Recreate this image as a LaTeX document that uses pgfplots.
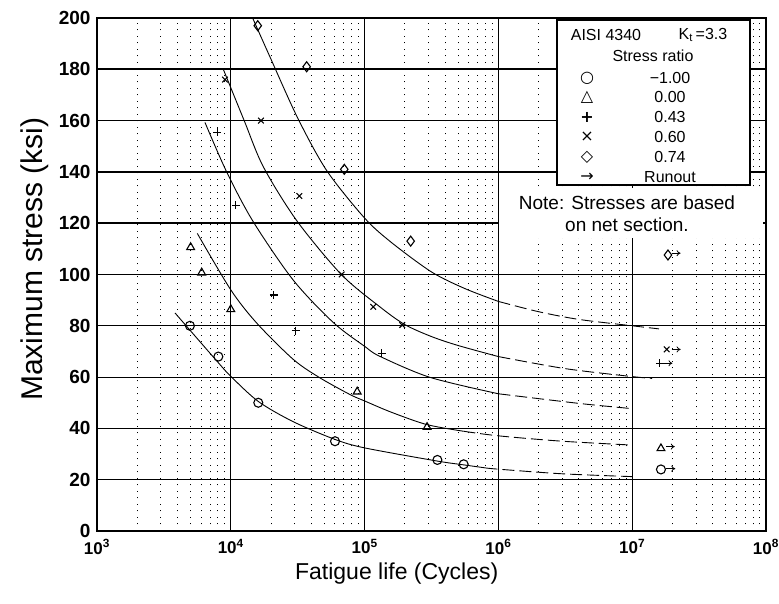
\documentclass[border=0pt]{standalone}
\usepackage{pgfplots}
\pgfplotsset{compat=1.18}
\usepackage{fontspec}
\setmainfont{Liberation Sans}
\newfontfamily\dv{DejaVu Sans}
\usetikzlibrary{arrows.meta}

\begin{document}
\begin{tikzpicture}
\useasboundingbox (-97pt,-73pt) rectangle (682pt,531pt);
\begin{axis}[
    name=ax,
    scale only axis,
    width=669pt, height=513pt,
    xmode=log,
    xmin=1e3, xmax=1e8,
    ymin=0, ymax=200,
    xtick={1e3,1e4,1e5,1e6,1e7,1e8},
    xticklabels={10\textsuperscript{3},10\textsuperscript{4},10\textsuperscript{5},10\textsuperscript{6},10\textsuperscript{7},10\textsuperscript{8}},
    ytick={0,20,...,200},
    grid=both,
    major grid style={black, line width=0.8pt},
    minor grid style={black, line width=1pt, dash pattern=on 1pt off 5.5pt},
    extra y ticks={120,140,160,180},
    extra y tick labels={},
    extra tick style={grid=major, major grid style={black, line width=1.8pt}},
    major tick length=0pt, minor tick length=0pt,
    axis line style={line width=2.2pt},
    /pgf/number format/assume math mode=true,
    yticklabel style={font=\fontsize{19}{20}\selectfont\bfseries, xshift=-3pt},
    xticklabel style={font=\fontsize{17}{19}\selectfont\bfseries, yshift=-5pt},
    xlabel={Fatigue life (Cycles)},
    ylabel={Maximum stress (ksi)},
    xlabel style={font=\fontsize{23}{26}\selectfont, at={(axis description cs:0.448,-0.082)}, anchor=center},
    ylabel style={font=\fontsize{30}{32}\selectfont, at={(axis description cs:-0.0927,0.53)}, anchor=center},
    every axis plot/.append style={black, line width=0.9pt},
]
% fitted curves (solid part, then dashed extrapolation)
\addplot[smooth] coordinates {(14560,200) (19950,184) (31620,161) (52120,140.5) (1e5,122) (158500,112.5) (316200,101) (562300,94.5) (1e6,89.5)};
\addplot[smooth, dash pattern=on 12pt off 5pt] coordinates {(1e6,89.5) (1.995e6,85.5) (3.98e6,82.5) (1e7,80) (1.585e7,78.8)};
\addplot[smooth] coordinates {(8790,180) (12590,160) (17500,142) (31100,121) (67000,100) (130000,87.4) (199500,80.5) (316200,75.8) (501200,72.3) (1e6,68)};
\addplot[smooth, dash pattern=on 12pt off 5pt] coordinates {(1e6,68) (3.16e6,63.3) (1e7,60.2) (1.41e7,59.5)};
\addplot[smooth] coordinates {(6410,159.3) (9310,140) (14700,120.6) (29300,97.8) (58300,81.3) (1e5,72) (130000,68.1) (308000,59.9) (1e6,53.5)};
\addplot[smooth, dash pattern=on 12pt off 5pt] coordinates {(1e6,53.5) (4.07e6,49.7) (1e7,47.7)};
\addplot[smooth] coordinates {(5620,116) (1e4,94) (15600,81.1) (29300,66.9) (46400,59.7) (77800,53.2) (1e5,50.7) (158500,46.3) (291000,41.5) (547000,38.9)};
\addplot[smooth, dash pattern=on 12pt off 5pt] coordinates {(547000,38.9) (1e6,37.1) (3e6,35) (1e7,33.5)};
\addplot[smooth] coordinates {(3830,85) (4950,78.3) (8070,65.6) (1e4,60.3) (16050,50.5) (29300,42.6) (60100,35.7) (1e5,32.4) (346000,27.3) (547000,25.8) (8e5,24.6)};
\addplot[smooth, dash pattern=on 12pt off 5pt] coordinates {(8e5,24.6) (1e6,24.1) (3e6,22.3) (1e7,21.2)};
% test data
\addplot[only marks, mark=o, mark size=4.5pt, mark options={fill=white, line width=1.1pt}] coordinates {(4950,80) (8070,68) (16050,50) (60100,35) (350000,27.7) (550000,26) (1.64e7,24)};
\addplot[only marks, mark=triangle, mark size=4.5pt, mark options={fill=white, line width=1.1pt}] coordinates {(5010,110.6) (6060,100.7) (10000,86.4) (88000,54.3) (293000,40.5) (1.64e7,32.2)};
\addplot[only marks, mark=+, mark size=4pt, mark options={line width=1.1pt}] coordinates {(7930,155.4) (10900,127) (21000,92) (30500,78) (134000,69.3) (1.61e7,65.4)};
\addplot[only marks, mark=x, mark size=4pt, mark options={line width=1.1pt}] coordinates {(9050,176) (16800,160) (32500,130.6) (67400,100) (116000,87.4) (191000,80.3) (1.81e7,70.8)};
\addplot[only marks, mark=diamond, mark size=5pt, mark options={fill=white, line width=1.1pt}] coordinates {(15900,197) (36900,181) (70500,141) (221000,113) (1.85e7,107.6)};
% runout arrows
\addplot[-{To[length=4pt,width=6pt]}, line width=0.8pt] coordinates {(1.97e7,108.3) (2.3e7,108.3)};
\addplot[-{To[length=4pt,width=6pt]}, line width=0.8pt] coordinates {(1.97e7,70.8) (2.3e7,70.8)};
\addplot[-{To[length=4pt,width=6pt]}, line width=0.8pt] coordinates {(1.64e7,65.4) (2.0e7,65.4)};
\addplot[-{To[length=4pt,width=6pt]}, line width=0.8pt] coordinates {(1.8e7,32.9) (2.08e7,32.9)};
\addplot[-{To[length=4pt,width=6pt]}, line width=0.8pt] coordinates {(1.8e7,24.3) (2.1e7,24.3)};
\end{axis}
% legend box and note, positions in image pixels
\begin{scope}[x=1pt, y=-1pt, shift={(-97pt,531pt)}]
\fill[white] (499,188) rectangle (763,238);
\draw[fill=white, line width=1.5pt] (557,20) rectangle (750,185);
\begin{scope}[every node/.style={font=\fontsize{16}{18}\selectfont, inner sep=0pt}]
\node at (606,35) {AISI 4340};
\node at (703,35) {K\textsubscript{t}\,=3.3};
\node at (653,56) {Stress ratio};
\node at (587,78) {\dv\bfseries ○};
\node at (587,97.5) {\dv\bfseries △};
\node at (587,117) {\dv\bfseries +};
\node at (587,137) {\dv ×};
\node at (587,157) {\dv\bfseries ◇};
\node at (587,177) {\dv →};
\node at (670,78) {−1.00};
\node at (670,97.5) {0.00};
\node at (670,117) {0.43};
\node at (670,137) {0.60};
\node at (670,157) {0.74};
\node at (670,177) {Runout};
\end{scope}
\node[font=\fontsize{19}{21}\selectfont, inner sep=0pt] at (627,203) {Note: Stresses are based};
\node[font=\fontsize{19}{21}\selectfont, inner sep=0pt] at (627,225) {on net section.};
\end{scope}
\end{tikzpicture}
\end{document}
